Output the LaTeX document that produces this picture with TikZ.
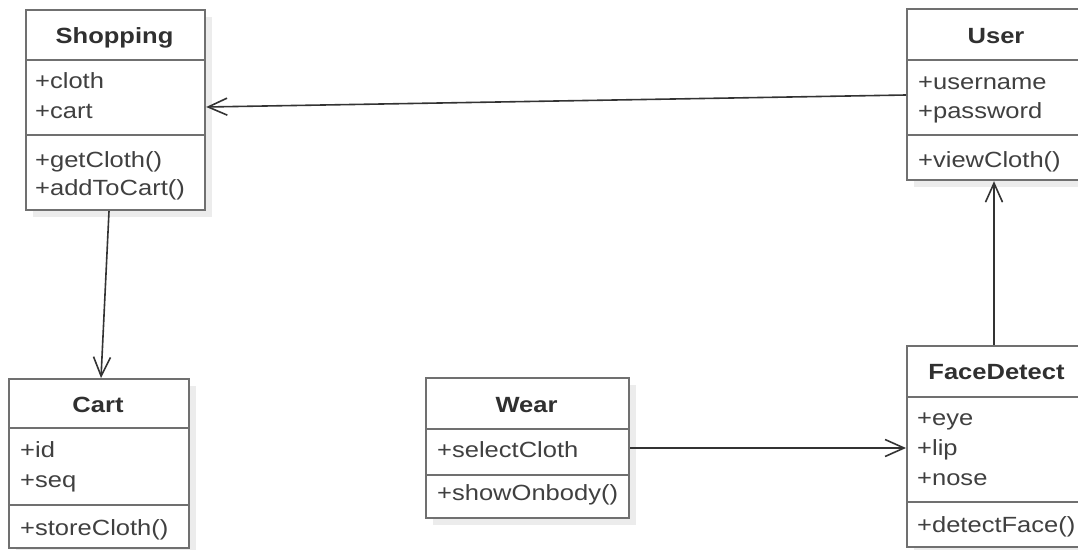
\documentclass[tikz,border=0pt]{standalone}
\usepackage{fontspec}
\setmainfont{Liberation Sans}[FakeStretch=1.16]
\usetikzlibrary{arrows.meta}
\definecolor{bordercol}{HTML}{707070}
\definecolor{txtcol}{HTML}{404040}
\definecolor{titlecol}{HTML}{303030}
\definecolor{shadowcol}{HTML}{ECECEC}
\definecolor{linecol}{HTML}{333333}
\tikzset{
  classbox/.style={draw=bordercol, line width=2.2pt, fill=white, rectangle, inner sep=0pt, anchor=north west},
  shadowbox/.style={fill=shadowcol, draw=none},
  sepline/.style={draw=bordercol, line width=2.2pt},
  title/.style={font=\fontsize{22}{26}\selectfont\bfseries, text=titlecol, anchor=base, inner sep=0pt},
  member/.style={font=\fontsize{22}{26}\selectfont, text=txtcol, anchor=base west, inner sep=0pt},
  assoc/.style={draw=linecol, line width=1.6pt, -{Straight Barb[length=19pt,width=17pt,line width=1.6pt]}}
}
\begin{document}
\begin{tikzpicture}[x=1pt,y=-1pt]
\useasboundingbox (0,0) rectangle (1078,549);
\clip (0,0) rectangle (1078,549);
\fill[white] (0,0) rectangle (1078,549);

% shadows
\fill[shadowbox] (33,17) rectangle (212,217);
\fill[shadowbox] (914,16) rectangle (1094,187);
\fill[shadowbox] (914,353) rectangle (1095,556);
\fill[shadowbox] (16,386) rectangle (196,556);
\fill[shadowbox] (433,385) rectangle (636,525);

% Shopping
\node[classbox, minimum width=179pt, minimum height=200pt] (shopping) at (25,9) {};
\draw[sepline] (25,60) -- (204,60);
\draw[sepline] (25,135) -- (204,135);
\node[title] (shoppingT) at (114.5,43) {Shopping};
\node[member] (shop1) at (35,88) {+cloth};
\node[member] (shop2) at (35,118) {+cart};
\node[member] (shop3) at (35,167) {+getCloth()};
\node[member] (shop4) at (35,195) {+addToCart()};

% User
\node[classbox, minimum width=180pt, minimum height=171pt] (user) at (906,8) {};
\draw[sepline] (906,60) -- (1086,60);
\draw[sepline] (906,135) -- (1086,135);
\node[title] (userT) at (996,43) {User};
\node[member] (user1) at (918,89) {+username};
\node[member] (user2) at (918,118) {+password};
\node[member] (user3) at (918,167) {+viewCloth()};

% FaceDetect
\node[classbox, minimum width=181pt, minimum height=201pt] (face) at (906,345) {};
\draw[sepline] (906,397) -- (1087,397);
\draw[sepline] (906,502) -- (1087,502);
\node[title] (faceT) at (996.5,379) {FaceDetect};
\node[member] (face1) at (917,425) {+eye};
\node[member] (face2) at (917,455) {+lip};
\node[member] (face3) at (917,485) {+nose};
\node[member] (face4) at (917,532) {+detectFace()};

% Cart
\node[classbox, minimum width=180pt, minimum height=169pt] (cart) at (8,378) {};
\draw[sepline] (8,428) -- (188,428);
\draw[sepline] (8,505) -- (188,505);
\node[title] (cartT) at (98,412) {Cart};
\node[member] (cart1) at (20,457) {+id};
\node[member] (cart2) at (20,487) {+seq};
\node[member] (cart3) at (20,535) {+storeCloth()};

% Wear
\node[classbox, minimum width=203pt, minimum height=140pt] (wear) at (425,377) {};
\draw[sepline] (425,429) -- (628,429);
\draw[sepline] (425,475) -- (628,475);
\node[title] (wearT) at (526.5,412) {Wear};
\node[member] (wear1) at (437,457) {+selectCloth};
\node[member] (wear2) at (437,500) {+showOnbody()};

% connector helper coordinates
\coordinate (yu) at (0,95);
\coordinate (ys) at (0,107);
\coordinate (xs) at (109,0);
\coordinate (xc) at (101,0);
\coordinate (xf) at (994,0);
\coordinate (yw) at (0,448);

\draw[assoc] (user.west |- yu) -- (shopping.east |- ys);
\draw[assoc] (shopping.south -| xs) -- (cart.north -| xc);
\draw[assoc] (face.north -| xf) -- (user.south -| xf);
\draw[assoc] (wear.east |- yw) -- (face.west |- yw);
\end{tikzpicture}
\end{document}
